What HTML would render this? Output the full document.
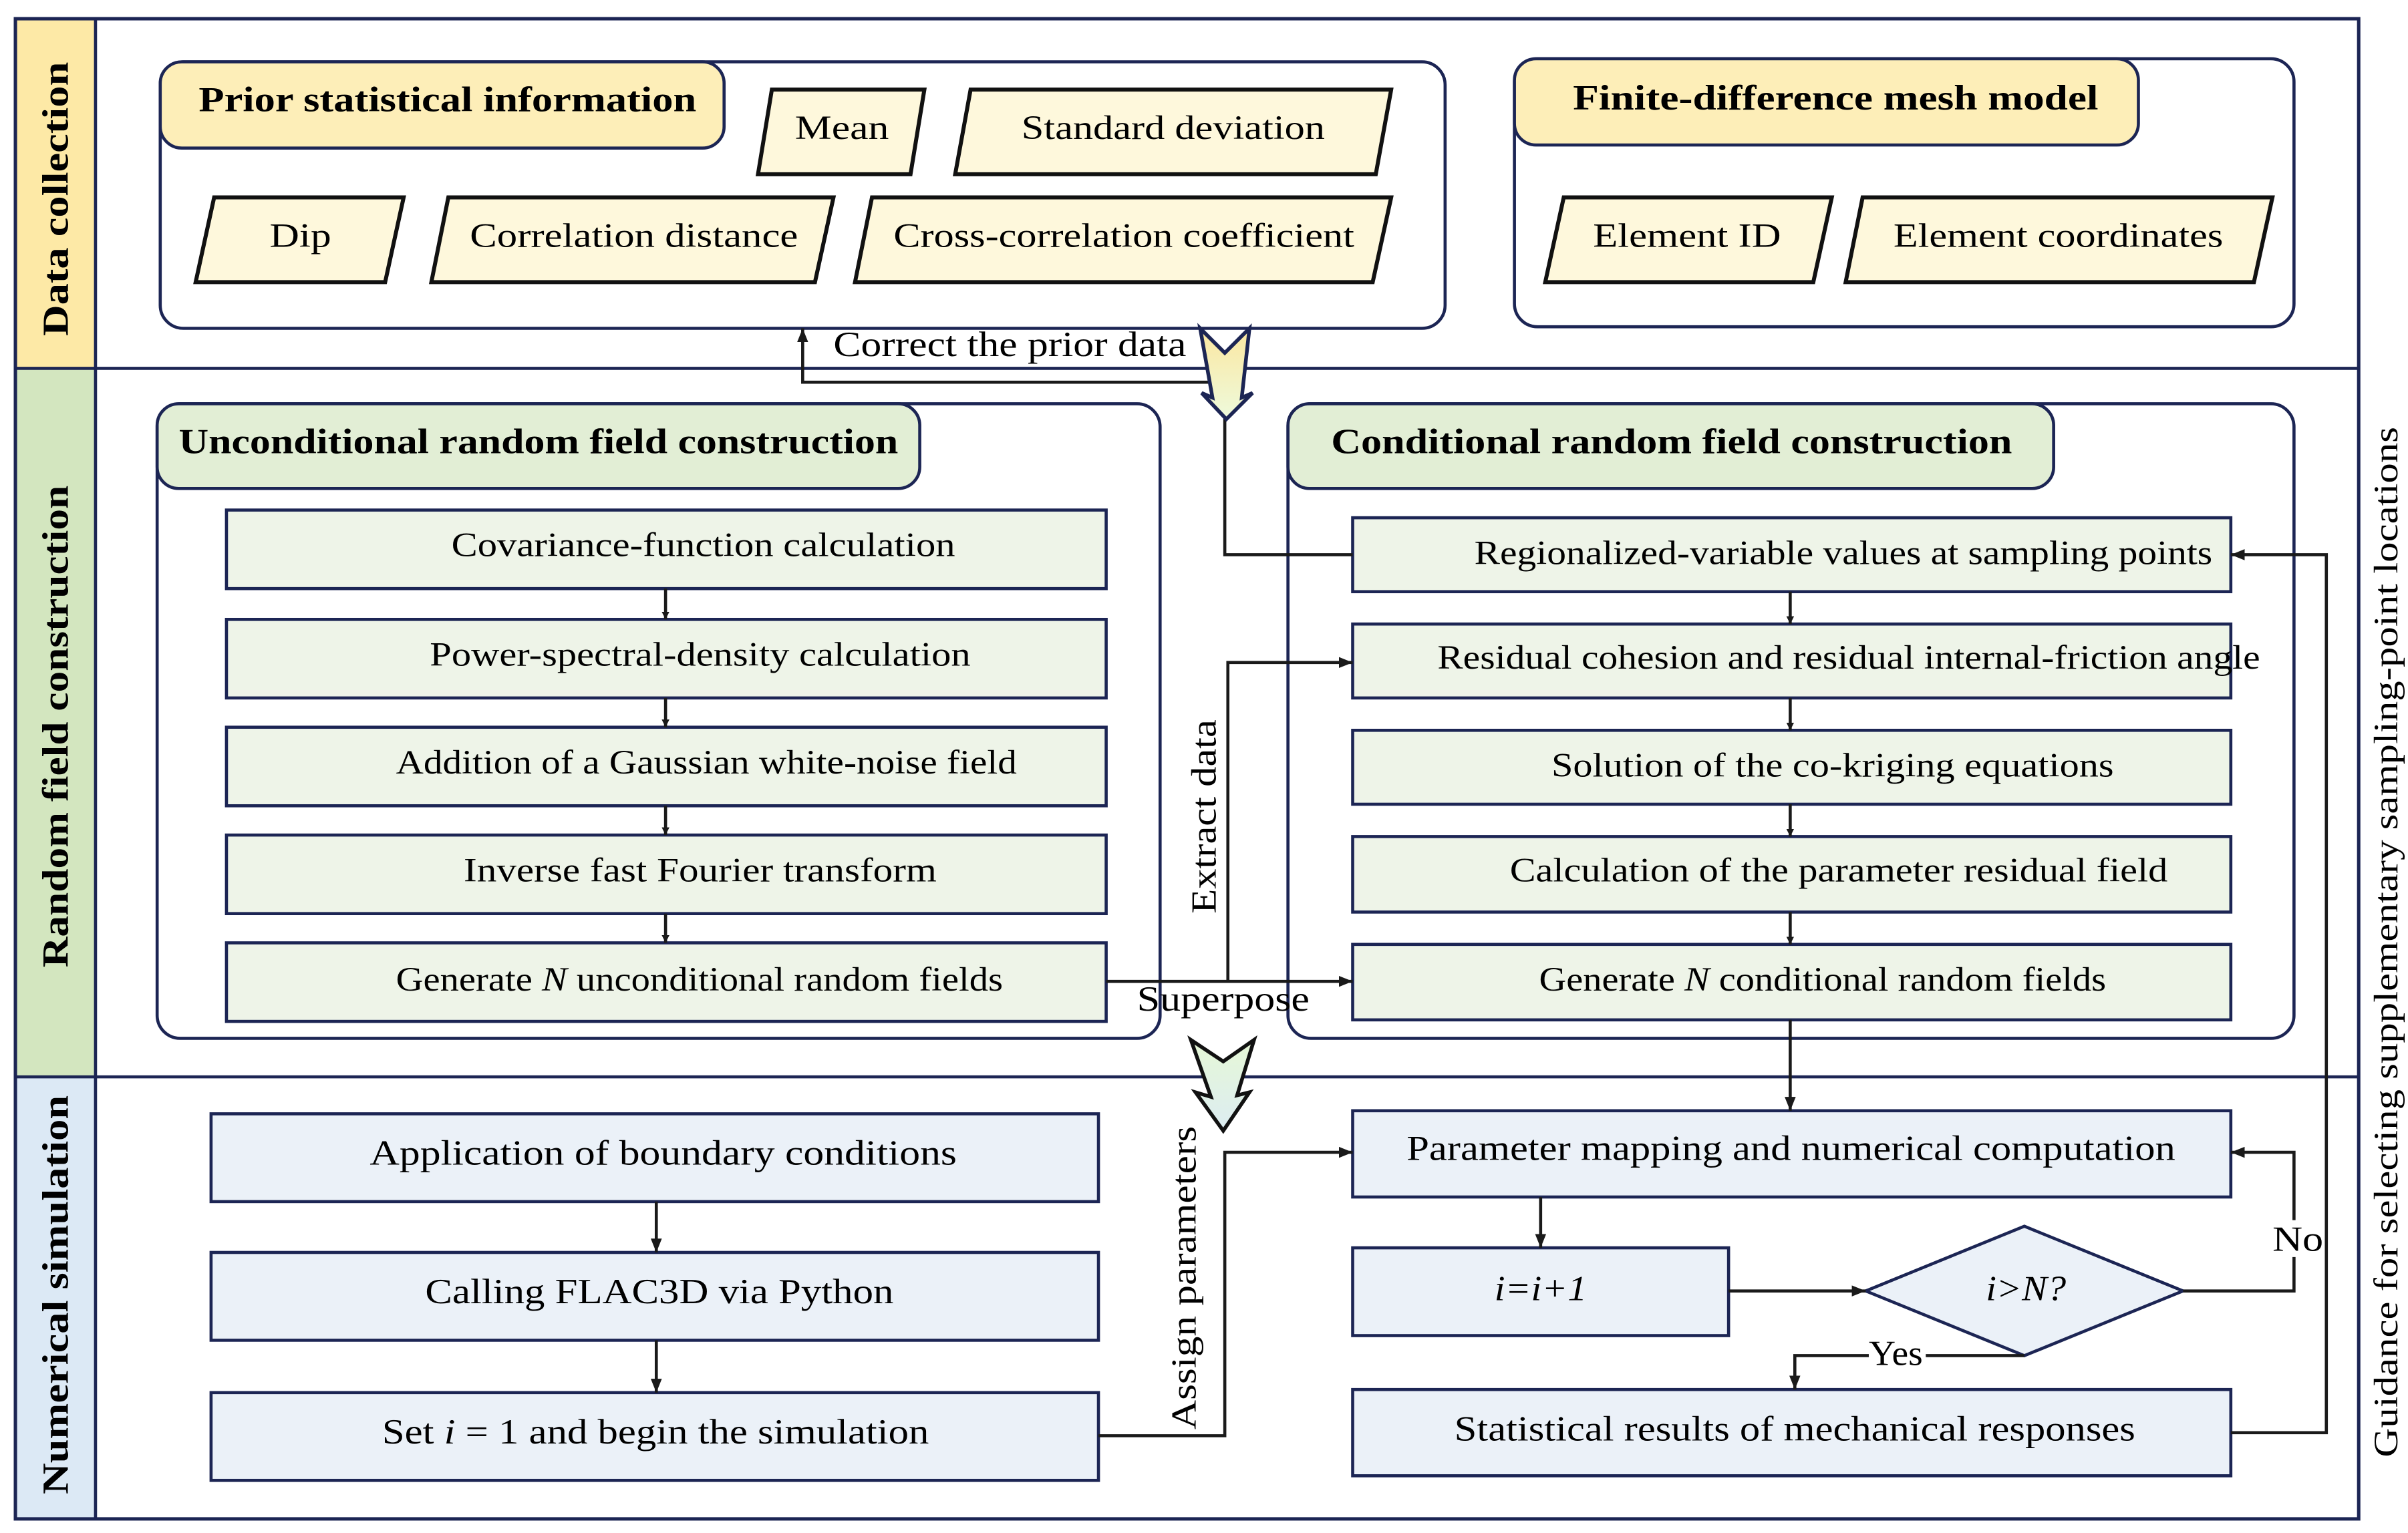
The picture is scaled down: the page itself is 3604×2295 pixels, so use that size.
<!DOCTYPE html>
<html><head><meta charset="utf-8"><style>html,body{margin:0;padding:0;background:#fff}svg{display:block}</style></head>
<body>
<svg xmlns="http://www.w3.org/2000/svg" width="3604" height="2295" viewBox="0 0 1563 995" font-family="Liberation Serif, serif">
<defs>
<marker id="a" viewBox="0 0 10 10" refX="10" refY="5" markerWidth="5" markerHeight="5" orient="auto" markerUnits="userSpaceOnUse"><path d="M0,0L10,5L0,10z" fill="#1a1a1a"/></marker>
<marker id="b" viewBox="0 0 10 10" refX="10" refY="5" markerWidth="9" markerHeight="9" orient="auto" markerUnits="userSpaceOnUse"><path d="M0,1L10,5L0,9z" fill="#1a1a1a"/></marker>
<linearGradient id="g1" x1="0" y1="0" x2="0" y2="1"><stop offset="0" stop-color="#fbe7a0"/><stop offset="1" stop-color="#eefadc"/></linearGradient>
<linearGradient id="g2" x1="0" y1="0" x2="0" y2="1"><stop offset="0" stop-color="#e6f8d6"/><stop offset="1" stop-color="#dcecf2"/></linearGradient>
</defs>
<rect x="10" y="12" width="52" height="227" fill="#fde9a6"/>
<rect x="10" y="239" width="52" height="460" fill="#d3e6bf"/>
<rect x="10" y="699" width="52" height="287" fill="#dce9f5"/>
<rect x="10" y="12" width="1521" height="974" fill="none" stroke="#1c2554" stroke-width="2.2"/>
<line x1="62" y1="12" x2="62" y2="986" stroke="#1c2554" stroke-width="2"/>
<line x1="10" y1="239" x2="1531" y2="239" stroke="#1c2554" stroke-width="2"/>
<line x1="10" y1="699" x2="1531" y2="699" stroke="#1c2554" stroke-width="2"/>
<g font-weight="bold" font-size="24" lengthAdjust="spacingAndGlyphs">
<text transform="translate(44,218) rotate(-90)" textLength="178" lengthAdjust="spacingAndGlyphs">Data collection</text>
<text transform="translate(44,628) rotate(-90)" textLength="313" lengthAdjust="spacingAndGlyphs">Random field construction</text>
<text transform="translate(44,970) rotate(-90)" textLength="259" lengthAdjust="spacingAndGlyphs">Numerical simulation</text>
</g>
<text transform="translate(1556,946) rotate(-90)" font-size="22" textLength="669" lengthAdjust="spacingAndGlyphs">Guidance for selecting supplementary sampling-point locations</text>

<g fill="none" stroke="#1c2554" stroke-width="2">
<rect x="104" y="40" width="834" height="173" rx="15"/>
<rect x="983" y="38" width="506" height="174" rx="15"/>
<rect x="102" y="262" width="651" height="412" rx="15"/>
<rect x="836" y="262" width="653" height="412" rx="15"/>
</g>
<g stroke="#1c2554" stroke-width="2">
<rect x="104" y="40" width="366" height="56" rx="14" fill="#fdeeb8"/>
<rect x="983" y="38" width="405" height="56" rx="14" fill="#fdeeb8"/>
<rect x="102" y="262" width="495" height="55" rx="14" fill="#e2eed5"/>
<rect x="836" y="262" width="497" height="55" rx="14" fill="#e2eed5"/>
</g>
<g font-weight="bold" font-size="23">
<text x="129" y="72" textLength="323" lengthAdjust="spacingAndGlyphs">Prior statistical information</text>
<text x="1021" y="71" textLength="341" lengthAdjust="spacingAndGlyphs">Finite-difference mesh model</text>
<text x="116" y="294" textLength="467" lengthAdjust="spacingAndGlyphs">Unconditional random field construction</text>
<text x="864" y="294" textLength="442" lengthAdjust="spacingAndGlyphs">Conditional random field construction</text>
</g>
<g fill="#fef8dc" stroke="#111" stroke-width="2.6">
<polygon points="501,58 600,58 591,113 492,113"/>
<polygon points="630,58 903,58 893,113 620,113"/>
<polygon points="139,128 262,128 250,183 127,183"/>
<polygon points="291,128 541,128 529,183 280,183"/>
<polygon points="566,128 903,128 891,183 555,183"/>
<polygon points="1015,128 1189,128 1177,183 1003,183"/>
<polygon points="1209,128 1475,128 1463,183 1198,183"/>
</g>
<g font-size="22">
<text x="516" y="90" textLength="61" lengthAdjust="spacingAndGlyphs">Mean</text>
<text x="663" y="90" textLength="197" lengthAdjust="spacingAndGlyphs">Standard deviation</text>
<text x="175" y="160" textLength="40" lengthAdjust="spacingAndGlyphs">Dip</text>
<text x="305" y="160" textLength="213" lengthAdjust="spacingAndGlyphs">Correlation distance</text>
<text x="580" y="160" textLength="299" lengthAdjust="spacingAndGlyphs">Cross-correlation coefficient</text>
<text x="1034" y="160" textLength="122" lengthAdjust="spacingAndGlyphs">Element ID</text>
<text x="1229" y="160" textLength="214" lengthAdjust="spacingAndGlyphs">Element coordinates</text>
</g>

<g fill="#eef4e8" stroke="#1c2554" stroke-width="2">
<rect x="147" y="331" width="571" height="51"/>
<rect x="147" y="402" width="571" height="51"/>
<rect x="147" y="472" width="571" height="51"/>
<rect x="147" y="542" width="571" height="51"/>
<rect x="147" y="612" width="571" height="51"/>
<rect x="878" y="336" width="570" height="48"/>
<rect x="878" y="405" width="570" height="48"/>
<rect x="878" y="474" width="570" height="48"/>
<rect x="878" y="543" width="570" height="49"/>
<rect x="878" y="613" width="570" height="49"/>
</g>
<g font-size="22">
<text x="293" y="361" textLength="327" lengthAdjust="spacingAndGlyphs">Covariance-function calculation</text>
<text x="279" y="432" textLength="351" lengthAdjust="spacingAndGlyphs">Power-spectral-density calculation</text>
<text x="257" y="502" textLength="403" lengthAdjust="spacingAndGlyphs">Addition of a Gaussian white-noise field</text>
<text x="301" y="572" textLength="307" lengthAdjust="spacingAndGlyphs">Inverse fast Fourier transform</text>
<text x="257" y="643" textLength="394" lengthAdjust="spacingAndGlyphs">Generate <tspan font-style="italic">N</tspan> unconditional random fields</text>
<text x="957" y="366" textLength="479" lengthAdjust="spacingAndGlyphs">Regionalized-variable values at sampling points</text>
<text x="933" y="434" textLength="534" lengthAdjust="spacingAndGlyphs">Residual cohesion and residual internal-friction angle</text>
<text x="1007" y="504" textLength="365" lengthAdjust="spacingAndGlyphs">Solution of the co-kriging equations</text>
<text x="980" y="572" textLength="427" lengthAdjust="spacingAndGlyphs">Calculation of the parameter residual field</text>
<text x="999" y="643" textLength="368" lengthAdjust="spacingAndGlyphs">Generate <tspan font-style="italic">N</tspan> conditional random fields</text>
</g>

<g fill="#ebf1f8" stroke="#1c2554" stroke-width="2">
<rect x="137" y="723" width="576" height="57"/>
<rect x="137" y="813" width="576" height="57"/>
<rect x="137" y="904" width="576" height="57"/>
<rect x="878" y="721" width="570" height="56"/>
<rect x="878" y="810" width="244" height="57"/>
<polygon points="1211,838 1314,796 1417,838 1314,880"/>
<rect x="878" y="902" width="570" height="56"/>
</g>
<g font-size="23">
<text x="240" y="756" textLength="381" lengthAdjust="spacingAndGlyphs">Application of boundary conditions</text>
<text x="276" y="846" textLength="304" lengthAdjust="spacingAndGlyphs">Calling FLAC3D via Python</text>
<text x="248" y="937" textLength="355" lengthAdjust="spacingAndGlyphs">Set <tspan font-style="italic">i</tspan> = 1 and begin the simulation</text>
<text x="913" y="753" textLength="499" lengthAdjust="spacingAndGlyphs">Parameter mapping and numerical computation</text>
<text x="970" y="844" font-style="italic" textLength="60" lengthAdjust="spacingAndGlyphs">i=i+1</text>
<text x="1289" y="844" font-style="italic" textLength="52" lengthAdjust="spacingAndGlyphs">i&gt;N?</text>
<text x="944" y="935" textLength="442" lengthAdjust="spacingAndGlyphs">Statistical results of mechanical responses</text>
</g>

<g fill="none" stroke="#1a1a1a" stroke-width="2">
<line x1="432" y1="382" x2="432" y2="402" marker-end="url(#a)"/>
<line x1="432" y1="453" x2="432" y2="472" marker-end="url(#a)"/>
<line x1="432" y1="523" x2="432" y2="542" marker-end="url(#a)"/>
<line x1="432" y1="593" x2="432" y2="612" marker-end="url(#a)"/>
<line x1="1162" y1="384" x2="1162" y2="405" marker-end="url(#a)"/>
<line x1="1162" y1="453" x2="1162" y2="474" marker-end="url(#a)"/>
<line x1="1162" y1="522" x2="1162" y2="543" marker-end="url(#a)"/>
<line x1="1162" y1="592" x2="1162" y2="613" marker-end="url(#a)"/>
<polyline points="878,360 795,360 795,248 521,248 521,213" marker-end="url(#b)"/>
<polyline points="718,637 878,637" marker-end="url(#b)"/>
<polyline points="797,637 797,430 878,430" marker-end="url(#b)"/>
<line x1="1162" y1="662" x2="1162" y2="721" marker-end="url(#b)"/>
<line x1="426" y1="780" x2="426" y2="813" marker-end="url(#b)"/>
<line x1="426" y1="870" x2="426" y2="904" marker-end="url(#b)"/>
<polyline points="713,932 795,932 795,748 878,748" marker-end="url(#b)"/>
<line x1="1000" y1="777" x2="1000" y2="810" marker-end="url(#b)"/>
<line x1="1122" y1="838" x2="1211" y2="838" marker-end="url(#b)"/>
<polyline points="1417,838 1489,838 1489,816"/>
<polyline points="1489,792 1489,748 1448,748" marker-end="url(#b)"/>
<polyline points="1314,880 1250,880"/>
<polyline points="1213,880 1165,880 1165,902" marker-end="url(#b)"/>
<polyline points="1448,930 1510,930 1510,360 1448,360" marker-end="url(#b)"/>
</g>
<g font-size="23">
<text x="541" y="231" textLength="229" lengthAdjust="spacingAndGlyphs">Correct the prior data</text>
<text x="738" y="656" textLength="112" lengthAdjust="spacingAndGlyphs">Superpose</text>
<text x="1475" y="812" textLength="33" lengthAdjust="spacingAndGlyphs">No</text>
<text x="1213" y="886" textLength="35" lengthAdjust="spacingAndGlyphs">Yes</text>
<text transform="translate(789,593) rotate(-90)" textLength="126" lengthAdjust="spacingAndGlyphs">Extract data</text>
<text transform="translate(776,928) rotate(-90)" textLength="197" lengthAdjust="spacingAndGlyphs">Assign parameters</text>
</g>
<polygon points="779,213 795,229 811,213 806,258 813,255 796,272 780,255 787,258" fill="url(#g1)" stroke="#1c2554" stroke-width="2.4"/>
<polygon points="773,675 794,689 814,675 803,711 811,709 794,734 776,709 786,712" fill="url(#g2)" stroke="#111" stroke-width="2.4"/>
</svg>
</body></html>
